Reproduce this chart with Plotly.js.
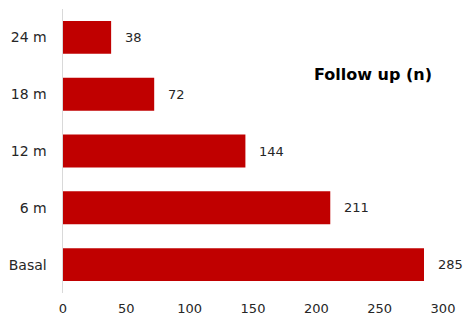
<!DOCTYPE html>
<html>
<head>
<meta charset="utf-8">
<script src="https://cdn.plot.ly/plotly-3.0.1.min.js"></script>
<style>html,body{margin:0;padding:0;background:#fff;}</style>
</head>
<body>
<div id="chart" style="width:466px;height:322px;"></div>
<script>
// Follow-up visits and number of patients at each one
const visits = ["Basal", "6 m", "12 m", "18 m", "24 m"];
const patients = [285, 211, 144, 72, 38];
const xTicks = [0, 50, 100, 150, 200, 250, 300];

const FONT = "'Century Gothic', 'URW Gothic', 'DejaVu Sans', sans-serif";

const trace = {
  type: "bar",
  orientation: "h",
  y: visits,
  x: patients,
  marker: { color: "#C00000" },
  hoverinfo: "none"
};

// Value labels to the right of each bar
const valueLabels = visits.map((v, i) => ({
  x: patients[i], y: v, xref: "x", yref: "y",
  text: String(patients[i]),
  showarrow: false, xanchor: "left", xshift: 12,
  font: { family: FONT, size: 13, color: "#262626" }
}));

const layout = {
  width: 466, height: 322,
  margin: { l: 63, r: 23, t: 9, b: 29 },
  paper_bgcolor: "#fff", plot_bgcolor: "#fff",
  showlegend: false,
  bargap: 0.42,
  font: { family: FONT, size: 13, color: "#262626" },
  xaxis: {
    range: [0, 300], tickvals: xTicks, ticktext: xTicks.map(String),
    showgrid: false, zeroline: false, showline: false, ticks: "",
    ticklabelstandoff: 6, fixedrange: true
  },
  yaxis: {
    categoryorder: "array", categoryarray: visits,
    showgrid: false, zeroline: false, showline: true,
    linecolor: "#d9d9d9", linewidth: 1.5, ticks: "",
    tickfont: { family: FONT, size: 14, color: "#262626" },
    ticklabelstandoff: 12, fixedrange: true
  },
  annotations: valueLabels.concat([{
    x: 0.815, y: 0.77, xref: "paper", yref: "paper",
    xanchor: "center", yanchor: "middle",
    text: "<b>Follow up (n)</b>", showarrow: false,
    font: { family: FONT, size: 16, color: "#000" }
  }])
};

Plotly.newPlot("chart", [trace], layout, { displayModeBar: false, staticPlot: true });
</script>
</body>
</html>
